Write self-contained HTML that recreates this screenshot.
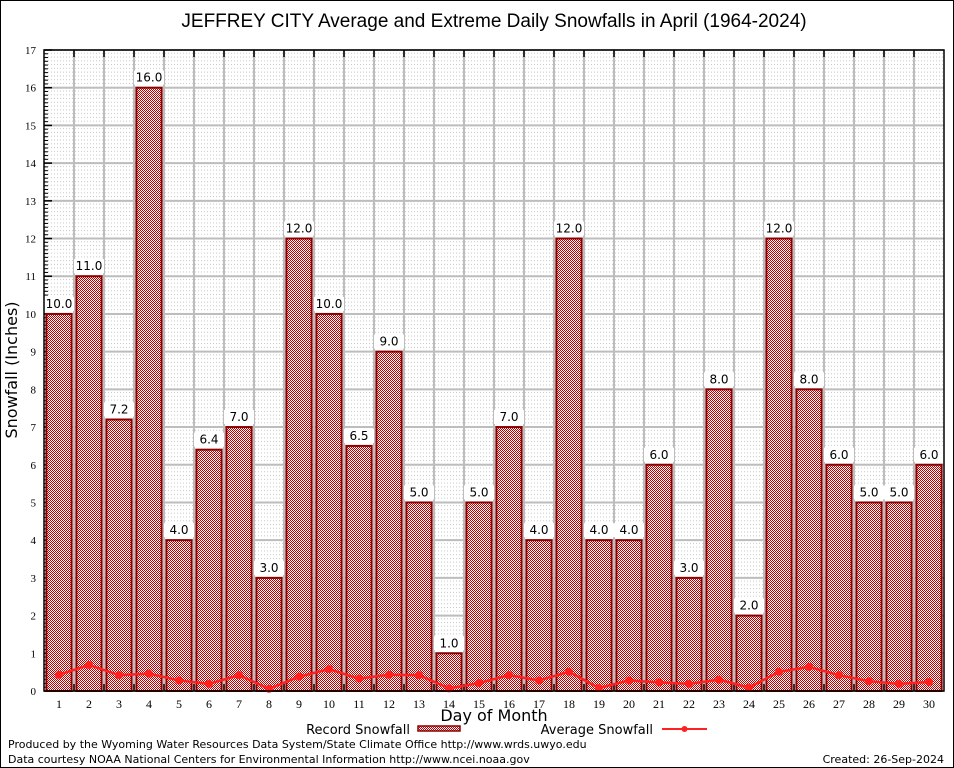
<!DOCTYPE html>
<html><head><meta charset="utf-8">
<style>
html,body{margin:0;padding:0;background:#fff;}
svg{display:block;font-family:"Liberation Sans","DejaVu Sans",sans-serif;}
</style></head>
<body>
<svg id="chart" width="954" height="768" viewBox="0 0 954 768" xmlns="http://www.w3.org/2000/svg">
<defs>
<pattern id="hatch" width="2" height="2" patternUnits="userSpaceOnUse">
<g shape-rendering="crispEdges">
<rect width="2" height="2" fill="#ffffff"/>
<rect width="1" height="1" fill="#c00000"/>
<rect x="1" y="1" width="1" height="1" fill="#c00000"/>
</g>
</pattern>
<pattern id="dots" width="3" height="3.77" patternUnits="userSpaceOnUse">
<rect width="1" height="1" fill="#c8c8c8"/>
</pattern>
</defs>
<rect x="0.5" y="0.5" width="953" height="767" fill="#fff" stroke="#000"/>
<text x="494" y="27" font-size="19" text-anchor="middle" font-family="Liberation Sans Narrow, Liberation Sans, sans-serif">JEFFREY CITY Average and Extreme Daily Snowfalls in April (1964-2024)</text>
<g id="plot"></g>
<text transform="translate(17,370) rotate(-90)" font-size="16" text-anchor="middle" font-family="DejaVu Sans, sans-serif">Snowfall (Inches)</text>
<text x="494" y="721" font-size="16" text-anchor="middle" font-family="DejaVu Sans, sans-serif">Day of Month</text>
<g font-family="DejaVu Sans, sans-serif" font-size="13">
<text x="410" y="734" text-anchor="end">Record Snowfall</text>
<rect x="418" y="726" width="42" height="5" fill="url(#hatch)" stroke="#8b0000" stroke-width="1.5"/>
<text x="653" y="734" text-anchor="end">Average Snowfall</text>
<line x1="662" y1="729" x2="707" y2="729" stroke="#ff2020" stroke-width="2"/>
<circle cx="684.5" cy="729" r="3" fill="#ff2020"/>
</g>
<g font-family="DejaVu Sans, sans-serif" font-size="11">
<text x="8" y="748">Produced by the Wyoming Water Resources Data System/State Climate Office http://www.wrds.uwyo.edu</text>
<text x="8" y="763">Data courtesy NOAA National Centers for Environmental Information http://www.ncei.noaa.gov</text>
<text x="944" y="763" text-anchor="end">Created: 26-Sep-2024</text>
</g>
</svg>
<script>
const days = [1,2,3,4,5,6,7,8,9,10,11,12,13,14,15,16,17,18,19,20,21,22,23,24,25,26,27,28,29,30];
const recordValues = [10,11,7.2,16,4,6.4,7,3,12,10,6.5,9,5,1,5,7,4,12,4,4,6,3,8,2,12,8,6,5,5,6];
const recordLabels = ["10.0","11.0","7.2","16.0","4.0","6.4","7.0","3.0","12.0","10.0","6.5","9.0","5.0","1.0","5.0","7.0","4.0","12.0","4.0","4.0","6.0","3.0","8.0","2.0","12.0","8.0","6.0","5.0","5.0","6.0"];
const averageValues = [0.43,0.69,0.42,0.46,0.28,0.19,0.42,0.06,0.38,0.58,0.33,0.43,0.42,0.07,0.21,0.42,0.28,0.51,0.08,0.28,0.23,0.19,0.30,0.09,0.51,0.64,0.42,0.26,0.19,0.24];
const yTicks = [0,1,2,3,4,5,6,7,8,9,10,11,12,13,14,15,16,17];

const NS = "http://www.w3.org/2000/svg";
const L = 44, R = 944, T = 50, B = 691;
const xMin = 0.5, xMax = 30.5, yMin = 0, yMax = 17;
const xScale = d => L + (d - xMin) / (xMax - xMin) * (R - L);
const yScale = v => B - (v - yMin) / (yMax - yMin) * (B - T);
const plot = document.getElementById('plot');
function mk(tag, attrs, parent) {
  const e = document.createElementNS(NS, tag);
  for (const k in attrs) e.setAttribute(k, attrs[k]);
  (parent || plot).appendChild(e);
  return e;
}
const bg = mk('rect', {x:L, y:T, width:R-L, height:B-T, fill:'url(#dots)'});


yTicks.forEach(t => {
  const y = yScale(t);
  const g = mk('line', {x1:L, x2:R, y1:y, y2:y, stroke:'#bdbdbd', 'stroke-width':2});
  
  
  const lb = mk('text', {x:36, y:y+4, 'font-size':11, 'text-anchor':'end', 'font-family':'Liberation Serif, serif'});
  lb.textContent = t;
  
  
  for (let m = 1; m < 10 && t < yMax; m++) {
    const ym = yScale(t + m/10);
    const mt = mk('line', {x1:L, x2:L+4, y1:ym, y2:ym, stroke:'#000', 'stroke-width':1});
    
    
  }
  const mj = mk('line', {x1:L, x2:L+8, y1:y, y2:y, stroke:'#000', 'stroke-width':1.5});
  
  
});
for (let i = 1; i < days.length; i++) {
  const x = xScale(days[i] - 0.5);
  const v = mk('line', {x1:x, x2:x, y1:T, y2:B, stroke:'#bdbdbd', 'stroke-width':2});
  
  
  const tt = mk('line', {x1:x, x2:x, y1:T, y2:T+7, stroke:'#000', 'stroke-width':1.5});
  
  
  const tb = mk('line', {x1:x, x2:x, y1:B, y2:B-7, stroke:'#000', 'stroke-width':1.5});
  
  
}
const bw = 0.84 * (R - L) / (xMax - xMin);
days.forEach((d, i) => {
  const x = xScale(d), y = yScale(recordValues[i]);
  const b = mk('rect', {x:x-bw/2, y:y, width:bw, height:B-y, fill:'url(#hatch)', stroke:'#8b0000', 'stroke-width':2});
  
  
  const bgl = mk('rect', {x:x-15, y:y-17, width:30, height:14, fill:'#fff'});
  
  
  const lt = mk('text', {x:x, y:y-6, 'font-size':12, 'text-anchor':'middle', 'font-family':'DejaVu Sans, sans-serif'});
  lt.textContent = recordLabels[i];
  
  
  const xl = mk('text', {x:x, y:708, 'font-size':12, 'text-anchor':'middle', 'font-family':'Liberation Serif, serif'});
  xl.textContent = d;
  
  
});
const pts = days.map((d, i) => xScale(d) + ',' + yScale(averageValues[i])).join(' ');
const pl = mk('polyline', {points:pts, fill:'none', stroke:'#ff2020', 'stroke-width':2.5});


days.forEach((d, i) => {
  const c = mk('circle', {cx:xScale(d), cy:yScale(averageValues[i]), r:4, fill:'#ff2020'});
  
  
});
const fr = mk('rect', {x:L, y:T, width:R-L, height:B-T, fill:'none', stroke:'#000', 'stroke-width':1.5});


</script>
</body></html>
